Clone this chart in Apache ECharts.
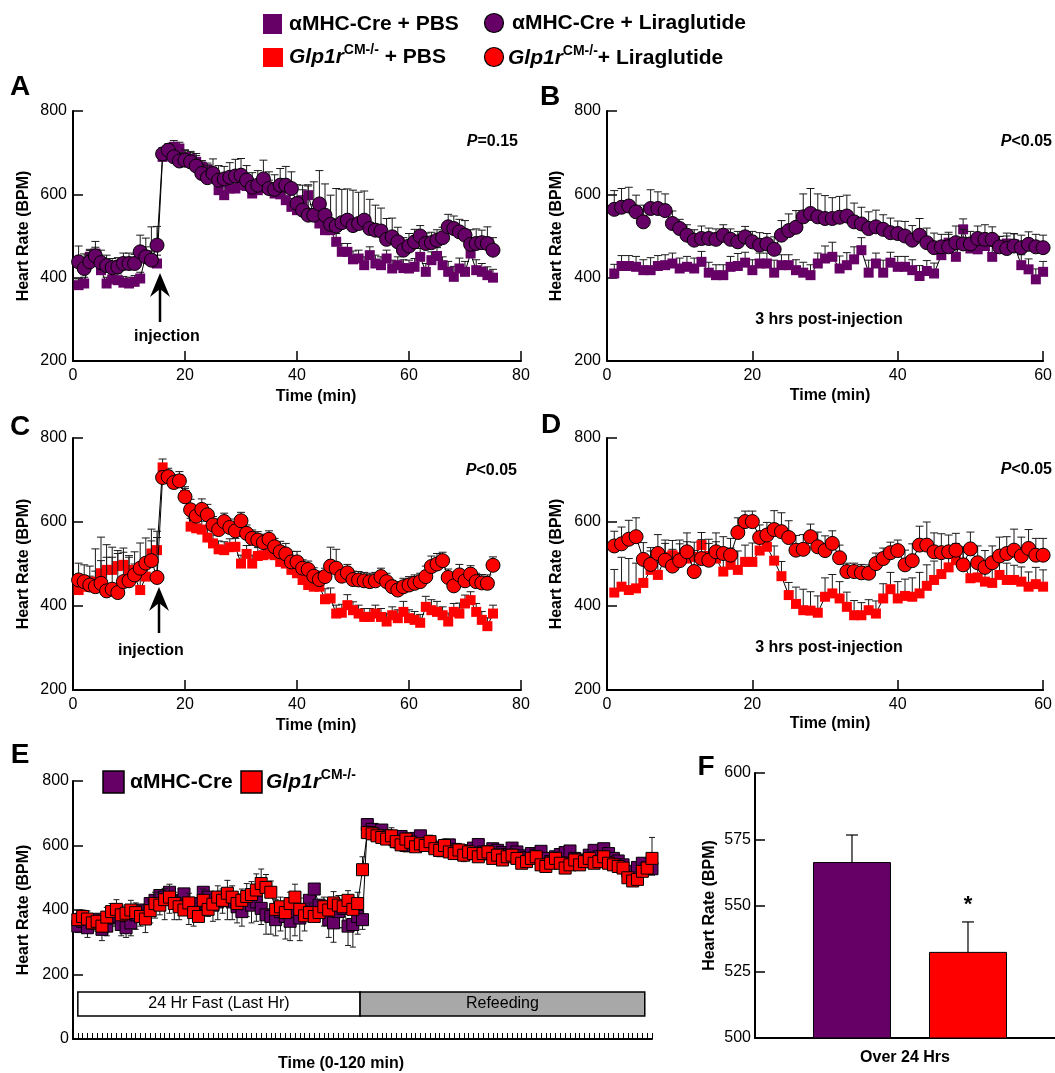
<!DOCTYPE html>
<html><head><meta charset="utf-8">
<script src="https://cdn.jsdelivr.net/npm/echarts@6/dist/echarts.min.js"></script>
<style>html,body{margin:0;padding:0;background:#fff}#c{width:1055px;height:1073px}</style>
</head><body><div id="c"></div>
<script>
const FONT = "Arial, 'Liberation Sans', Helvetica, sans-serif";
const PURPLE = '#660066', RED = '#ff0000';

// ---------- Panel A (alphaMHC-Cre, 0-75 min, injection at 15) ----------
const aLira = [438,422,438,452,436,429,424,426,434,434, 434,462,450,442,478,697,706,690,680,682, 678,668,650,640,650,634,637,641,644,646, 634,617,622,637,614,612,622,622,614,578, 562,550,550,577,550,528,524,532,538,525, 530,538,518,514,512,492,498,486,466,476, 486,500,482,484,490,496,522,518,510,502, 480,482,484,482,466];
const aLiraErr = [38,35,30,35,30,25,22,22,25,25, 22,40,45,80,45,15,15,15,20,25, 25,30,30,30,35,35,30,35,40,40, 35,35,35,45,40,35,40,45,40,45, 60,70,80,80,75,70,90,80,75,85, 75,70,70,60,55,50,45,35,30,30, 30,25,25,25,25,25,30,30,30,35, 35,35,30,40,30];
const aPbs = [382,386,450,458,418,386,396,394,388,386, 390,398,454,442,434,690,705,714,710,690, 685,678,666,660,650,610,598,614,614,622, 620,602,610,615,614,602,600,586,570,562, 586,598,550,530,514,514,486,462,462,444, 446,430,454,434,430,446,422,430,423,422, 426,450,414,442,452,430,414,402,422,414, 458,418,414,406,400];
const aPbsErr = [15,15,15,15,15,15,15,15,15,15, 15,15,20,20,20,15,15,15,15,15, 15,15,15,15,15,20,20,20,20,20, 20,20,20,20,20,20,20,20,20,25, 25,25,25,25,25,25,20,20,20,20, 20,20,20,20,20,20,20,20,20,20, 20,20,20,20,20,20,25,25,25,25, 20,25,20,20,20];

// ---------- Panel B (alphaMHC-Cre, 3 hrs post-injection, 0-60 min) ----------
const bLira = [564,569,572,558,534,566,566,561,530,518, 502,490,494,494,492,502,492,486,498,486, 478,481,468,502,513,521,546,554,546,542, 542,545,548,534,529,518,522,516,508,506, 500,490,502,484,472,474,474,484,481,481, 494,492,492,474,470,476,472,480,474,472];
const bLiraErr = [45,45,45,40,40,45,40,40,30,22, 25,25,30,25,25,25,25,25,25,25, 30,25,30,35,40,40,55,60,55,55, 50,50,50,45,40,40,40,35,35,30, 35,35,40,35,35,30,30,40,35,30, 30,35,30,25,30,30,30,30,30,30];
const bPbs = [410,428,428,426,418,418,428,430,434,422, 426,422,438,412,406,406,426,428,436,418, 434,434,412,430,430,418,412,406,434,446, 450,422,430,444,466,412,434,412,436,426, 426,418,404,416,410,454,484,450,516,470, 468,476,450,474,482,480,430,420,396,414];
const bPbsErr = [22,25,25,25,25,30,25,25,25,25, 25,25,25,25,25,25,25,30,25,25, 25,25,30,25,25,25,25,25,25,30, 35,30,30,30,30,30,25,30,25,25, 25,25,25,25,25,25,25,25,25,25, 25,25,25,25,25,25,25,25,25,25];

// ---------- Panel C (Glp1r CM-/-, 0-75 min, injection at 15) ----------
const cLira = [462,458,450,446,454,436,440,432,458,460, 474,490,502,508,468,706,708,694,698,660, 629,614,630,617,593,582,601,587,579,603, 573,561,557,551,559,541,529,524,505,505, 490,487,471,463,470,495,490,471,479,463, 462,460,458,460,470,458,446,438,446,450, 454,458,470,494,500,508,468,448,474,460, 476,458,455,454,497];
const cLiraErr = [40,40,45,90,110,110,100,100,80,60, 55,60,60,75,110,15,15,15,15,20, 25,25,25,25,20,25,20,20,20,20, 20,20,20,20,20,20,25,25,25,25, 20,20,20,20,20,45,45,20,20,20, 20,20,20,20,20,20,15,20,20,20, 20,20,25,25,25,20,20,20,25,20, 20,20,20,20,20];
const cPbs = [438,446,446,458,478,486,486,495,498,486, 470,438,470,525,533,730,708,692,700,664, 589,585,582,563,549,535,533,540,541,501, 524,501,519,521,524,521,505,501,486,478, 462,450,446,446,416,418,382,384,402,390, 382,374,374,382,374,363,378,371,386,371, 367,360,398,390,386,378,363,386,382,406, 414,386,367,352,382];
const cPbsErr = [25,25,25,25,30,30,30,30,30,30, 30,30,30,30,30,20,20,20,20,20, 20,20,20,20,20,20,20,20,20,20, 20,20,20,20,20,20,20,20,20,20, 20,20,20,20,25,25,20,20,25,20, 20,20,20,20,20,20,20,20,25,20, 20,20,25,25,25,20,20,20,25,20, 20,20,20,20,20];

// ---------- Panel D (Glp1r CM-/-, 3 hrs post-injection, 0-60 min) ----------
const dLira = [543,548,559,565,511,499,525,509,495,508, 529,482,513,509,529,525,521,575,601,601, 563,569,582,577,563,533,535,565,541,532, 549,515,482,482,479,478,501,513,527,532, 498,508,545,545,529,527,529,533,498,536, 503,492,503,519,525,533,519,537,521,521];
const dLiraErr = [35,40,45,45,40,40,45,40,40,40, 45,50,45,40,45,40,40,35,25,25, 30,30,45,45,40,35,35,30,35,35, 30,30,20,20,20,20,25,25,25,25, 35,40,45,55,45,45,40,40,35,40, 40,40,40,45,40,50,45,45,40,40];
const dPbs = [432,446,438,442,455,486,474,517,521,517, 513,517,545,519,513,482,498,486,505,505, 532,541,508,471,426,405,390,389,384,422, 430,418,398,378,378,390,382,418,440,418, 424,422,430,448,462,476,492,509,501,466, 468,458,455,474,462,462,458,446,452,446];
const dPbsErr = [55,70,75,60,50,45,45,40,35,40, 40,35,30,40,40,45,40,45,40,45, 30,30,35,35,30,40,50,45,40,45, 45,40,35,35,30,25,30,35,40,40, 40,45,50,50,45,45,40,40,40,35, 40,35,40,35,40,35,35,35,40,40];

// ---------- Panel E (fast / refeeding, 0-120 min) ----------
const eAmhc = [350,365,345,360,370,340,350,375,380,355, 345,360,385,400,375,420,430,445,440,455, 430,425,450,420,400,420,455,440,415,425, 440,430,425,410,395,430,415,425,405,385, 380,370,395,380,365,395,375,400,430,465, 415,395,370,360,395,405,350,355,380,370,
  665,650,640,648,630,622,612,628,600,612, 622,630,605,602,595,585,596,602,588,578, 572,584,592,603,580,575,590,585,578,572, 592,580,568,562,575,570,582,560,550,565, 572,578,583,560,545,555,570,585,565,590, 575,560,552,540,520,500,532,545,530,528];
const eAmhcErr = [20,25,30,25,30,35,30,25,30,35, 30,40,45,50,45,60,55,60,70,65, 60,55,60,65,50,55,70,60,50,55, 50,60,55,50,45,50,55,60,50,60, 55,50,60,70,60,75,70,65,50,55, 40,45,55,60,50,60,60,70,55,30,
  25,20,22,20,20,22,20,20,20,22, 20,20,22,20,20,20,22,20,20,20, 22,20,20,20,22,20,20,22,20,20, 20,22,20,20,20,22,20,20,22,20, 20,20,20,22,20,20,22,20,20,20, 22,20,20,22,20,20,20,22,20,20];
const eGlp = [370,380,372,360,365,350,378,395,402,385, 390,400,392,380,372,398,420,415,432,440, 420,410,400,422,392,380,430,402,418,440, 430,452,440,420,430,442,448,462,482,470, 455,402,410,392,420,440,402,382,392,380, 392,410,400,422,415,410,430,402,420,525,
  640,636,630,625,620,630,612,602,620,610, 596,605,600,612,590,585,600,580,575,586, 570,580,575,565,575,580,560,570,555,565, 570,560,545,550,560,565,540,535,545,560, 545,530,540,555,540,550,560,545,550,565, 545,540,535,530,500,490,495,520,530,560];
const eGlpErr = [20,20,25,20,25,25,30,25,30,25, 25,30,30,35,30,30,35,35,35,40, 35,30,35,30,30,30,35,30,30,35, 35,40,35,30,35,40,40,50,45,40, 35,30,30,35,35,40,35,30,30,30, 35,30,30,35,30,35,30,30,35,40,
  20,20,25,25,20,25,20,20,20,20, 20,20,20,20,20,20,20,20,20,20, 20,20,20,20,20,20,20,20,20,20, 20,20,20,20,20,20,20,20,20,20, 20,20,20,20,20,20,20,20,20,20, 20,20,20,20,20,20,25,25,30,65];

// ---------- Panel F (over 24 hrs) ----------
const fGroups = ['αMHC-Cre', 'Glp1r CM-/-'];
const fMean = [566.4, 532.5];
const fErr = [10.2, 11.3];
const fSig = ['', '*'];

// ---------- tick labels ----------
const yTicksHR = [200, 400, 600, 800];
const xTicksA = [0, 20, 40, 60, 80];
const xTicksB = [0, 20, 40, 60];

// ---------------- helpers ----------------
function pts(vals, x0) { return vals.map((v, i) => [x0 + i, v]); }
function errSeries(gi, vals, errs, x0, dir, cap, z) {
  return {
    type: 'custom', xAxisIndex: gi, yAxisIndex: gi, silent: true, animation: false, z: z,
    data: vals.map((v, i) => [x0 + i, v, v + dir * errs[i]]),
    encode: { x: 0, y: [1, 2] },
    renderItem: function (params, api) {
      const a = api.coord([api.value(0), api.value(1)]);
      const b = api.coord([api.value(0), api.value(2)]);
      return { type: 'group', children: [
        { type: 'line', shape: { x1: a[0], y1: a[1], x2: b[0], y2: b[1] }, style: { stroke: '#1a1a1a', lineWidth: 1 } },
        { type: 'line', shape: { x1: b[0] - cap, y1: b[1], x2: b[0] + cap, y2: b[1] }, style: { stroke: '#1a1a1a', lineWidth: 1 } }
      ]};
    }
  };
}
function lineSeries(gi, vals, x0, symbol, size, color, border, z) {
  return {
    type: 'line', xAxisIndex: gi, yAxisIndex: gi, data: pts(vals, x0), z: z,
    symbol: symbol, symbolSize: size, showAllSymbol: true, showSymbol: true,
    lineStyle: { color: '#000', width: 1 },
    itemStyle: { color: color, borderColor: '#000', borderWidth: border, opacity: 1 },
    emphasis: { disabled: true }, animation: false, silent: true
  };
}
const lbl = { fontFamily: FONT, fontSize: 16, color: '#000' };
function yAx(gi, min, max, interval, nameGap, margin, custom) {
  const o = {
    type: 'value', gridIndex: gi, min: min, max: max, interval: interval,
    name: 'Heart Rate (BPM)', nameLocation: 'middle', nameGap: nameGap, nameRotate: 90,
    nameTextStyle: { fontFamily: FONT, fontSize: 16, fontWeight: 'bold', color: '#000' },
    axisLine: { show: true, lineStyle: { color: '#000', width: 2 } },
    axisTick: { show: true, inside: true, length: 10, lineStyle: { color: '#000', width: 1.5 } },
    axisLabel: Object.assign({ margin: margin }, lbl),
    splitLine: { show: false }
  };
  if (custom) { o.axisTick.customValues = custom; o.axisLabel.customValues = custom; }
  return o;
}
function xAx(gi, min, max, interval, custom) {
  const o = {
    type: 'value', gridIndex: gi, min: min, max: max, interval: interval,
    axisLine: { show: true, onZero: false, lineStyle: { color: '#000', width: 2 } },
    axisTick: { show: true, inside: true, length: 10, lineStyle: { color: '#000', width: 1.5 } },
    axisLabel: Object.assign({ margin: 7 }, lbl),
    splitLine: { show: false }
  };
  if (custom) { o.axisTick.customValues = custom; o.axisLabel.customValues = custom; }
  return o;
}
function T(text, x, y, st) {
  return { type: 'text', x: x, y: y, silent: true, z: 100,
    style: Object.assign({ text: text, fill: '#000', fontFamily: FONT, fontSize: 16, fontWeight: 'bold', align: 'center', verticalAlign: 'middle' }, st || {}) };
}
function P(sign, x, y) {
  return T('{i|P}{n|' + sign + '}', x, y, { align: 'right', rich: {
    i: { fontFamily: FONT, fontSize: 16, fontWeight: 'bold', fontStyle: 'italic', fill: '#000' },
    n: { fontFamily: FONT, fontSize: 16, fontWeight: 'bold', fill: '#000' } } });
}
const supRich = {
  b: { fontFamily: FONT, fontSize: 21, fontWeight: 'bold', fill: '#000', lineHeight: 28 },
  i: { fontFamily: FONT, fontSize: 21, fontWeight: 'bold', fontStyle: 'italic', fill: '#000', lineHeight: 28 },
  s: { fontFamily: FONT, fontSize: 14, fontWeight: 'bold', fill: '#000', lineHeight: 16, verticalAlign: 'top' }
};
function arrow(x, yTip, yTail) {
  return { type: 'group', silent: true, z: 100, children: [
    { type: 'line', shape: { x1: x, y1: yTip + 14, x2: x, y2: yTail }, style: { stroke: '#000', lineWidth: 2.5 } },
    { type: 'polygon', shape: { points: [[x, yTip], [x - 10, yTip + 24], [x, yTip + 16], [x + 10, yTip + 24]] }, style: { fill: '#000' } }
  ]};
}

// ---------------- option ----------------
const series = [
  // A
  errSeries(0, aPbs, aPbsErr, 1, 1, 4, 2), lineSeries(0, aPbs, 1, 'rect', 10, PURPLE, 0, 3),
  errSeries(0, aLira, aLiraErr, 1, 1, 4, 4), lineSeries(0, aLira, 1, 'circle', 14, PURPLE, 1, 5),
  // B
  errSeries(1, bPbs, bPbsErr, 1, 1, 4, 2), lineSeries(1, bPbs, 1, 'rect', 10, PURPLE, 0, 3),
  errSeries(1, bLira, bLiraErr, 1, 1, 4, 4), lineSeries(1, bLira, 1, 'circle', 14, PURPLE, 1, 5),
  // C
  errSeries(2, cPbs, cPbsErr, 1, 1, 4, 2), lineSeries(2, cPbs, 1, 'rect', 10, RED, 0, 3),
  errSeries(2, cLira, cLiraErr, 1, 1, 4, 4), lineSeries(2, cLira, 1, 'circle', 14, RED, 1, 5),
  // D
  errSeries(3, dPbs, dPbsErr, 1, 1, 4, 2), lineSeries(3, dPbs, 1, 'rect', 10, RED, 0, 3),
  errSeries(3, dLira, dLiraErr, 1, 1, 4, 4), lineSeries(3, dLira, 1, 'circle', 14, RED, 1, 5),
  // E
  errSeries(4, eAmhc, eAmhcErr, 1, -1, 3, 2),
  Object.assign(lineSeries(4, eAmhc, 1, 'rect', 12, PURPLE, 1, 3), {
    markArea: { silent: true, label: { show: true, position: 'inside', fontFamily: FONT, fontSize: 16, color: '#000', formatter: '{b}' },
      data: [
        [{ name: '24 Hr Fast (Last Hr)', xAxis: 1, yAxis: 71, itemStyle: { color: '#ffffff', borderColor: '#000', borderWidth: 1.5 } }, { xAxis: 59.5, yAxis: 146 }],
        [{ name: 'Refeeding', xAxis: 59.5, yAxis: 71, itemStyle: { color: '#a8a8a8', borderColor: '#000', borderWidth: 1.5 } }, { xAxis: 118.5, yAxis: 146 }]
      ] }
  }),
  errSeries(4, eGlp, eGlpErr, 1, 1, 3, 4), lineSeries(4, eGlp, 1, 'rect', 12, RED, 1, 5),
  // F
  { type: 'bar', xAxisIndex: 5, yAxisIndex: 5, barWidth: 78, animation: false, silent: true, z: 2,
    data: fMean.map((v, i) => ({ value: [i + 1, v], name: fGroups[i], itemStyle: { color: [PURPLE, RED][i], borderColor: '#000', borderWidth: 1 } })) },
  { type: 'custom', xAxisIndex: 5, yAxisIndex: 5, silent: true, animation: false, z: 3,
    data: fMean.map((v, i) => [i + 1, v, v + fErr[i], i]), encode: { x: 0, y: [1, 2] },
    renderItem: function (params, api) {
      const a = api.coord([api.value(0), api.value(1)]);
      const b = api.coord([api.value(0), api.value(2)]);
      const ch = [
        { type: 'line', shape: { x1: a[0], y1: a[1], x2: b[0], y2: b[1] }, style: { stroke: '#000', lineWidth: 1.2 } },
        { type: 'line', shape: { x1: b[0] - 6, y1: b[1], x2: b[0] + 6, y2: b[1] }, style: { stroke: '#000', lineWidth: 1.2 } }
      ];
      const s = fSig[api.value(3)];
      if (s) ch.push({ type: 'text', x: b[0], y: b[1] - 6, style: { text: s, fill: '#000', fontFamily: FONT, fontSize: 22, fontWeight: 'bold', align: 'center', verticalAlign: 'bottom' } });
      return { type: 'group', children: ch };
    } }
];

const option = {
  backgroundColor: '#fff',
  animation: false,
  grid: [
    { left: 73, top: 111, width: 448, height: 250 },
    { left: 607, top: 111, width: 447, height: 250 },
    { left: 73, top: 438, width: 448, height: 252 },
    { left: 607, top: 438, width: 447, height: 252 },
    { left: 73, top: 781, width: 579, height: 258 },
    { left: 755, top: 773, width: 300, height: 265 }
  ],
  xAxis: [
    xAx(0, 0, 80, 20, xTicksA),
    xAx(1, 0, 60, 20, xTicksB),
    xAx(2, 0, 80, 20, xTicksA),
    xAx(3, 0, 60, 20, xTicksB),
    Object.assign(xAx(4, 0, 120, 1), { axisLabel: { show: false }, axisTick: { show: true, inside: true, length: 6, interval: 0, lineStyle: { color: '#000', width: 1 } } }),
    { type: 'value', gridIndex: 5, min: 0.164, max: 2.75, axisLine: { show: true, lineStyle: { color: '#000', width: 2 } },
      axisTick: { show: false }, axisLabel: { show: false }, splitLine: { show: false },
      name: 'Over 24 Hrs', nameLocation: 'middle', nameGap: 12,
      nameTextStyle: { fontFamily: FONT, fontSize: 16, fontWeight: 'bold', color: '#000', verticalAlign: 'top' } }
  ],
  yAxis: [
    yAx(0, 200, 800, 200, 41, 6, yTicksHR),
    yAx(1, 200, 800, 200, 42, 6, yTicksHR),
    yAx(2, 200, 800, 200, 41, 6, yTicksHR),
    yAx(3, 200, 800, 200, 42, 6, yTicksHR),
    yAx(4, 0, 800, 200, 40, 4),
    yAx(5, 500, 600, 25, 37, 4)
  ],
  series: series,
  graphic: [
    // legend (top)
    { type: 'rect', silent: true, shape: { x: 263, y: 14, width: 19, height: 20 }, style: { fill: PURPLE } },
    T('αMHC-Cre + PBS', 289, 24, { align: 'left', fontSize: 21 }),
    { type: 'circle', silent: true, shape: { cx: 494, cy: 23, r: 9.5 }, style: { fill: PURPLE, stroke: '#000', lineWidth: 1.2 } },
    T('αMHC-Cre + Liraglutide', 512, 23, { align: 'left', fontSize: 21 }),
    { type: 'rect', silent: true, shape: { x: 263, y: 48, width: 20, height: 19 }, style: { fill: RED } },
    T('{i|Glp1r}{s|CM-/-}{b| + PBS}', 289, 57, { align: 'left', rich: supRich }),
    { type: 'circle', silent: true, shape: { cx: 494, cy: 57, r: 9.5 }, style: { fill: RED, stroke: '#000', lineWidth: 1.2 } },
    T('{i|Glp1r}{s|CM-/-}{b|+ Liraglutide}', 508, 58, { align: 'left', rich: supRich }),
    // panel letters
    T('A', 20, 87, { fontSize: 28 }), T('B', 550, 97, { fontSize: 28 }),
    T('C', 20, 427, { fontSize: 28 }), T('D', 551, 425, { fontSize: 28 }),
    T('E', 20, 755, { fontSize: 28 }), T('F', 706, 767, { fontSize: 28 }),
    // P values
    P('=0.15', 518, 142), P('<0.05', 1052, 142), P('<0.05', 517, 471), P('<0.05', 1052, 470),
    // annotations
    arrow(160, 273, 322), T('injection', 167, 337),
    arrow(159, 587, 633), T('injection', 151, 651),
    T('3 hrs post-injection', 829, 320), T('3 hrs post-injection', 829, 648),
    // x axis titles
    T('Time (min)', 316, 397), T('Time (min)', 830, 396),
    T('Time (min)', 316, 726), T('Time (min)', 830, 724),
    T('Time (0-120 min)', 341, 1064),
    // panel E legend
    { type: 'rect', silent: true, shape: { x: 103, y: 771, width: 21, height: 22 }, style: { fill: PURPLE, stroke: '#000', lineWidth: 1.5 } },
    T('αMHC-Cre', 130, 782, { align: 'left', fontSize: 21 }),
    { type: 'rect', silent: true, shape: { x: 241, y: 771, width: 21, height: 22 }, style: { fill: RED, stroke: '#000', lineWidth: 1.5 } },
    T('{i|Glp1r}{s|CM-/-}', 266, 782, { align: 'left', rich: supRich })
  ]
};

const chart = echarts.init(document.getElementById('c'), null, { renderer: 'canvas' });
chart.setOption(option);
</script></body></html>
